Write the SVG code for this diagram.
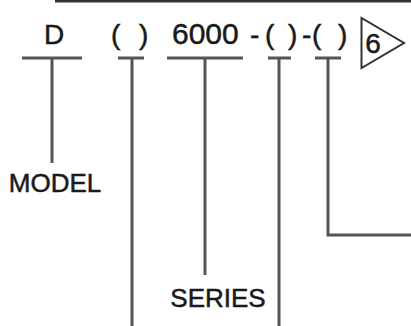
<svg xmlns="http://www.w3.org/2000/svg" width="411" height="326" viewBox="0 0 411 326">
<style>
.t{font-family:"Liberation Sans",Arial,sans-serif;fill:#1a1a1a;stroke:#1a1a1a;stroke-width:0.5;}
.big{font-size:28px;}
.lab{font-size:26px;}
.ln{stroke:#555;stroke-width:3;fill:none;}
</style>
<rect width="411" height="326" fill="#fff"/>
<g id="top-rule"><line x1="55" y1="1" x2="411" y2="1" stroke="#333" stroke-width="3"/></g>
<g id="code">
<text class="t big" x="54" y="44" text-anchor="middle">D</text>
<text class="t big" y="44"><tspan x="111">(</tspan><tspan x="139">)</tspan></text>
<text class="t big" x="172" y="44" style="font-size:30px">6000</text>
<text class="t big" y="44"><tspan x="250">-</tspan><tspan x="265">(</tspan><tspan x="288">)</tspan><tspan x="302">-</tspan><tspan x="312">(</tspan><tspan x="338">)</tspan></text>
</g>
<g id="note6">
<polygon points="361.5,18 361.5,68 404,43" fill="none" stroke="#333" stroke-width="2"/>
<text class="t big" x="373" y="53" text-anchor="middle">6</text>
</g>
<g id="connectors" class="ln">
<path d="M22 58H82M52 58V163"/>
<path d="M118 58H144M132 58V326"/>
<path d="M167 58H243M205 58V275"/>
<path d="M268 58H291M279 58V326"/>
<path d="M315 58H341M328 58V235H411"/>
</g>
<g id="model"><text class="t lab" x="55" y="192" text-anchor="middle">MODEL</text></g>
<g id="series"><text class="t lab" x="218" y="307" text-anchor="middle">SERIES</text></g>
</svg>
